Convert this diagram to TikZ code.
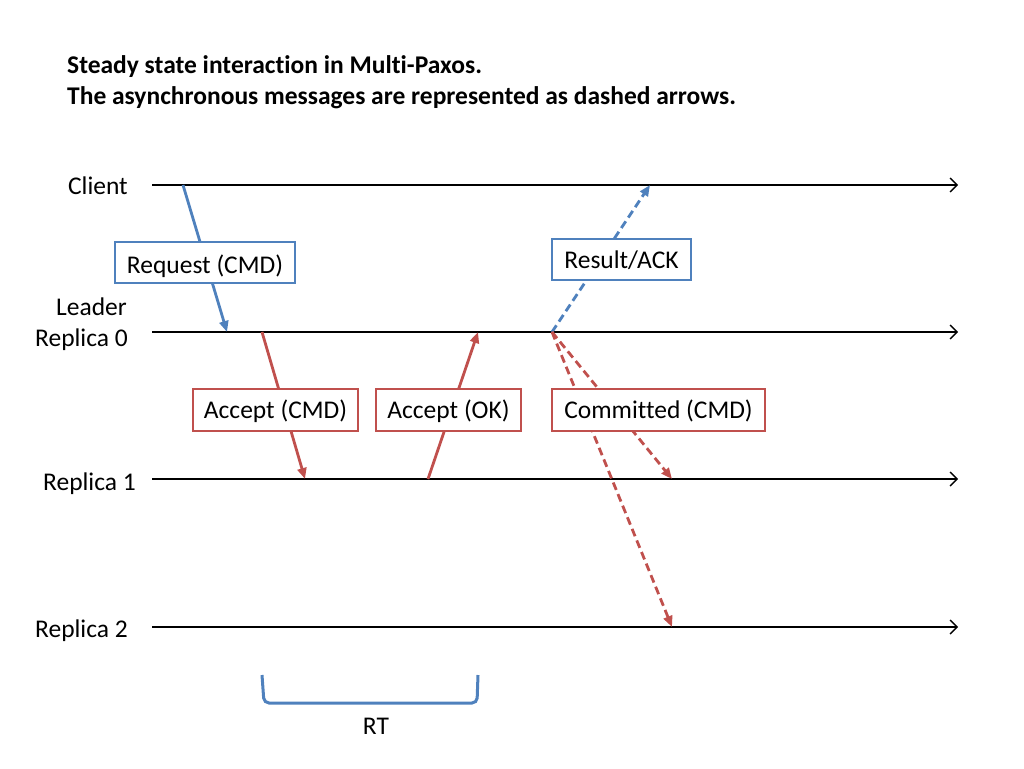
\documentclass[tikz,border=0pt]{standalone}
\usepackage{fontspec}
\setmainfont{Carlito}[Ligatures=NoCommon]
\usetikzlibrary{arrows.meta}
\definecolor{pblue}{HTML}{4F81BD}
\definecolor{pred}{HTML}{C0504D}
\tikzset{
  axis/.style={draw=black, line width=1.4pt, -{Straight Barb[length=7pt,width=14pt,line width=1.4pt]}},
  msg/.style={line width=2.8pt, -{Triangle[length=11pt,width=9pt]}},
  async/.style={msg, dash pattern=on 8pt off 4.5pt},
  lbl/.style={font=\fontsize{25.5}{31}\selectfont, inner sep=0pt},
  msgbox/.style={draw, line width=2.8pt, fill=white, font=\fontsize{25.5}{31}\selectfont, inner sep=0pt, align=center},
}
\begin{document}
\begin{tikzpicture}[x=1pt,y=-1pt]
\useasboundingbox (0,0) rectangle (1024,768);
% title
\node[anchor=base west, font=\bfseries\fontsize{25.5}{31}\selectfont, inner sep=0pt] (t1) at (67,73) {Steady state interaction in Multi-Paxos.};
\node[anchor=base west, font=\bfseries\fontsize{25.5}{31}\selectfont, inner sep=0pt] (t2) at (67,104) {The asynchronous messages are represented as dashed arrows.};
% process labels
\node[lbl, anchor=base east] (lc) at (128,194) {Client};
\node[lbl, anchor=base east] (ll1) at (127,315) {Leader};
\node[lbl, anchor=base east] (ll2) at (128,346) {Replica 0};
\node[lbl, anchor=base east] (lr1) at (136,490) {Replica 1};
\node[lbl, anchor=base east] (lr2) at (128,637) {Replica 2};
% axes
\coordinate (c0) at (152,185); \coordinate (c1) at (958,185);
\coordinate (l0) at (152,332); \coordinate (l1) at (958,332);
\coordinate (r0) at (152,479); \coordinate (r1) at (958,479);
\coordinate (s0) at (152,627); \coordinate (s1) at (958,627);
\draw[axis] (c0) -- (c1);
\draw[axis] (l0) -- (l1);
\draw[axis] (r0) -- (r1);
\draw[axis] (s0) -- (s1);
% message end points
\coordinate (rqA) at (183,185); \coordinate (rqB) at (227,332);
\coordinate (acA) at (262,332); \coordinate (acB) at (305,479);
\coordinate (okA) at (428,479); \coordinate (okB) at (478,332);
\coordinate (lead) at (552,332);
\coordinate (resB) at (650,185);
\coordinate (cm1) at (672,479);
\coordinate (cm2) at (672,627);
\draw[msg, pblue] (rqA) -- (rqB);
\draw[msg, pred] (acA) -- (acB);
\draw[msg, pred] (okA) -- (okB);
\draw[async, pblue] (lead) -- (resB);
\draw[async, pred] (lead) -- (cm1);
\draw[async, pred] (lead) -- (cm2);
% boxes
\node[msgbox, draw=pblue, minimum width=180pt, minimum height=41pt, text depth=2pt, text height=24pt] (brq) at (205,262.5) {Request (CMD)};
\node[msgbox, draw=pred, minimum width=165pt, minimum height=42pt, text depth=5pt, text height=22pt] (bac) at (275.5,410) {Accept (CMD)};
\node[msgbox, draw=pred, minimum width=145pt, minimum height=42pt, text depth=5pt, text height=22pt] (bok) at (448.5,410) {Accept (OK)};
\node[msgbox, draw=pblue, minimum width=139pt, minimum height=41pt, text depth=5pt, text height=22pt] (bres) at (621.5,259.5) {Result/ACK};
\node[msgbox, draw=pred, minimum width=213pt, minimum height=42pt, text depth=5pt, text height=22pt] (bcm) at (658.5,410) {Committed (CMD)};
% RT bracket
\coordinate (k0) at (262,675); \coordinate (k1) at (264,703);
\coordinate (k2) at (477,703); \coordinate (k3) at (478,675);
\draw[pblue, line width=3pt, rounded corners=5pt] (k0) -- (k1) -- (k2) -- (k3);
\node[lbl, anchor=base] (rt) at (376,734) {RT};
\end{tikzpicture}
\end{document}
